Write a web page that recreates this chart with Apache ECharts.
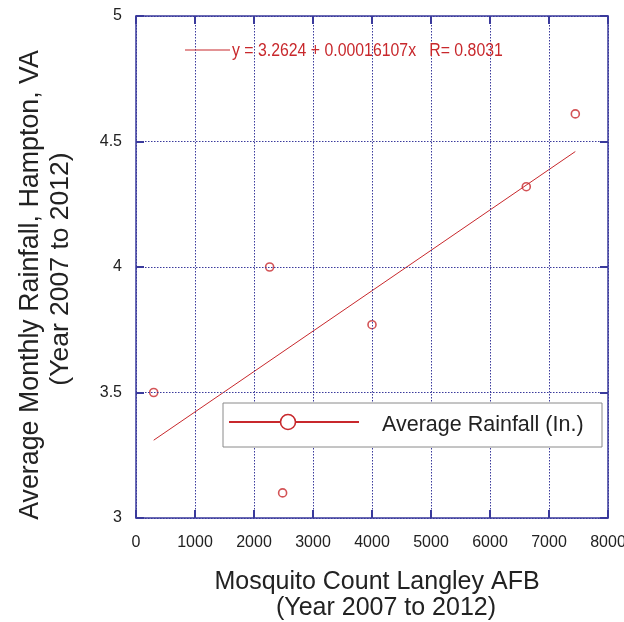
<!DOCTYPE html>
<html>
<head>
<meta charset="utf-8">
<script src="https://cdn.jsdelivr.net/npm/echarts@6/dist/echarts.min.js"></script>
<style>
html,body{margin:0;padding:0;background:#fff;}
#chart{width:624px;height:622px;}
</style>
</head>
<body>
<div id="chart"></div>
<script>
// Data
const mosquitoCount = [300, 2265, 2485, 4000, 6615, 7446];
const avgRainfall = [3.50, 4.00, 3.10, 3.77, 4.32, 4.61];
const fitLineX = [300, 7446];
const fitLineY = [3.31, 4.46];
const xTicks = [0, 1000, 2000, 3000, 4000, 5000, 6000, 7000, 8000];
const yTicks = [3, 3.5, 4, 4.5, 5];
const seriesName = 'Average Rainfall (In.)';
const equationText = 'y = 3.2624 + 0.00016107x   R= 0.8031';
const xTitle = ['Mosquito Count Langley AFB', '(Year 2007 to 2012)'];
const yTitle = ['Average Monthly Rainfall, Hampton, VA', '(Year 2007 to 2012)'];

const NAVY = '#3a3a9c';
const RED = '#c8282c';
const TXT = '#222';
const FONT = '"Liberation Sans", Arial, sans-serif';

const chart = echarts.init(document.getElementById('chart'), null, {renderer: 'canvas'});

function makeAxis(position, ticks, step, showLabels, showSplit) {
  return {
    type: 'value',
    position: position,
    min: ticks[0],
    max: ticks[ticks.length - 1],
    interval: step,
    z: 5,
    axisLine: {show: true, onZero: false, lineStyle: {color: NAVY, width: 1.5}},
    axisTick: {show: true, inside: true, length: 8, lineStyle: {color: NAVY, width: 2}},
    axisLabel: showLabels ? {
      show: true, color: TXT, fontSize: 16, fontFamily: FONT,
      margin: (position === 'bottom' ? 17 : 14),
      formatter: function (v) { return String(v); }
    } : {show: false},
    splitLine: showSplit ? {show: true, lineStyle: {color: NAVY, type: [1.5, 1.5], width: 1}} : {show: false}
  };
}

const option = {
  backgroundColor: '#fff',
  animation: false,
  grid: {left: 136, right: 16, top: 16, bottom: 104, containLabel: false, outerBoundsMode: 'none'},
  xAxis: [
    makeAxis('bottom', xTicks, 1000, true, true),
    makeAxis('top', xTicks, 1000, false, false)
  ],
  yAxis: [
    makeAxis('left', yTicks, 0.5, true, true),
    makeAxis('right', yTicks, 0.5, false, false)
  ],
  series: [
    {
      name: 'fit',
      type: 'line',
      xAxisIndex: 0, yAxisIndex: 0,
      data: fitLineX.map((x, i) => [x, fitLineY[i]]),
      showSymbol: false,
      symbol: 'none',
      lineStyle: {color: RED, width: 1},
      silent: true
    },
    {
      name: seriesName,
      type: 'scatter',
      xAxisIndex: 0, yAxisIndex: 0,
      data: mosquitoCount.map((x, i) => [x, avgRainfall[i]]),
      symbol: 'circle',
      symbolSize: 8,
      itemStyle: {color: '#fff', borderColor: RED, borderWidth: 1.6}
    }
  ],
  graphic: [
    // equation legend
    {type: 'line', shape: {x1: 185, y1: 50, x2: 230, y2: 50}, style: {stroke: RED, lineWidth: 1.2}, z: 100},
    {type: 'text', x: 232, y: 51, scaleX: 0.88, style: {text: equationText, fill: RED, font: '18px ' + FONT, textVerticalAlign: 'middle', textAlign: 'left'}, z: 100},
    // series legend box
    {type: 'rect', shape: {x: 223, y: 403, width: 379, height: 44}, style: {fill: '#fff', stroke: '#8a8a8a', lineWidth: 1}, z: 100},
    {type: 'line', shape: {x1: 229, y1: 422, x2: 359, y2: 422}, style: {stroke: RED, lineWidth: 2}, z: 101},
    {type: 'circle', shape: {cx: 288, cy: 422, r: 7.5}, style: {fill: '#fff', stroke: RED, lineWidth: 1.6}, z: 102},
    {type: 'text', x: 382, y: 425, style: {text: seriesName, fill: TXT, font: '21.5px ' + FONT, textVerticalAlign: 'middle', textAlign: 'left'}, z: 101},
    // x axis title
    {type: 'text', x: 377, y: 582, style: {text: xTitle[0], fill: TXT, font: '25px ' + FONT, textAlign: 'center', textVerticalAlign: 'middle'}},
    {type: 'text', x: 386, y: 608, style: {text: xTitle[1], fill: TXT, font: '25px ' + FONT, textAlign: 'center', textVerticalAlign: 'middle'}},
    // y axis title
    {type: 'text', x: 31, y: 285, rotation: Math.PI / 2, style: {text: yTitle[0], fill: TXT, font: '26.8px ' + FONT, textAlign: 'center', textVerticalAlign: 'middle'}},
    {type: 'text', x: 61, y: 269, rotation: Math.PI / 2, style: {text: yTitle[1], fill: TXT, font: '26.5px ' + FONT, textAlign: 'center', textVerticalAlign: 'middle'}}
  ]
};
chart.setOption(option);
</script>
</body>
</html>
